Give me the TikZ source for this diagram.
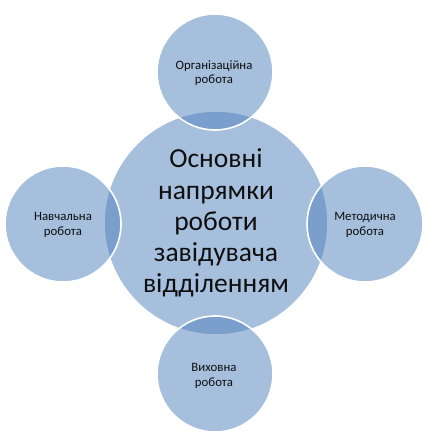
\documentclass[tikz,border=0pt]{standalone}
\usepackage{fontspec}
\setmainfont{Carlito}
\definecolor{accent}{RGB}{79,129,189}
\definecolor{txt}{RGB}{15,15,15}
\begin{document}
\begin{tikzpicture}[x=1pt,y=-1pt,
  bubble/.style={circle, fill=accent, fill opacity=0.5, draw=white, line width=1.6pt, inner sep=0pt},
  smalltxt/.style={align=center, text=txt, font=\fontsize{12.8}{14.5}\selectfont},
  bigtxt/.style={align=center, text=txt, font=\fontsize{27.5}{31.2}\selectfont}]
\path[use as bounding box, fill=white] (0,0) rectangle (439,446);
\node[bubble, minimum size=224pt] (c) at (216,223) {};
\node[bubble, minimum size=116pt] (t) at (215,72) {};
\node[bubble, minimum size=116pt] (l) at (63,224) {};
\node[bubble, minimum size=116pt] (r) at (365,224) {};
\node[bubble, minimum size=116pt] (b) at (215,374) {};
\node[bigtxt] (ct) at (216,223) {Основні\\напрямки\\роботи\\завідувача\\відділенням};
\node[smalltxt] (tt) at (214,73) {Організаційна\\робота};
\node[smalltxt] (lt) at (63,225) {Навчальна\\робота};
\node[smalltxt] (rt) at (365,225) {Методична\\робота};
\node[smalltxt] (bt) at (214,376) {Виховна\\робота};
\end{tikzpicture}
\end{document}
